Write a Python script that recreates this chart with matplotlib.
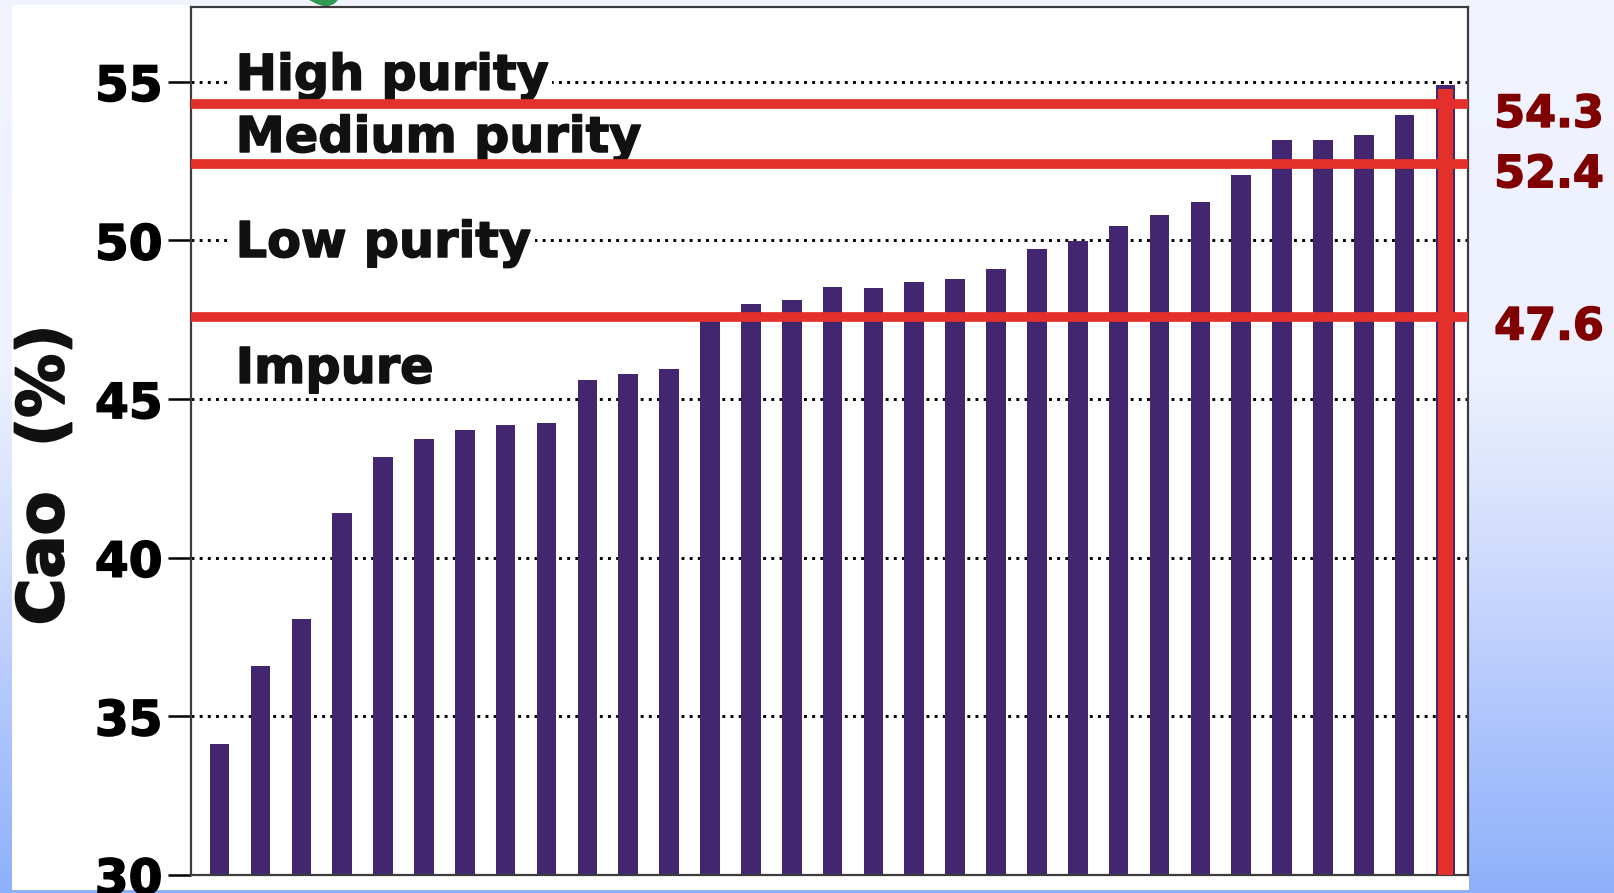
import numpy as np
import matplotlib
matplotlib.use("Agg")
import matplotlib.pyplot as plt
import matplotlib.patheffects as pe
from matplotlib.patches import Rectangle, Polygon

plt.rcParams['font.family'] = ['DejaVu Sans']
plt.rcParams['font.weight'] = 'bold'

# CaO content of each sample, sorted ascending
cao_values = [34.13, 36.60, 38.06, 41.40, 43.19, 43.74, 44.04, 44.19, 44.24,
              45.61, 45.79, 45.94, 47.45, 47.99, 48.13, 48.52, 48.49, 48.69,
              48.80, 49.10, 49.74, 49.97, 50.46, 50.81, 51.20, 52.05, 53.18,
              53.17, 53.33, 53.96, 54.90]

# purity class thresholds
thresholds = [54.3, 52.4, 47.6]
threshold_labels = ["54.3", "52.4", "47.6"]

# class names and the baseline height at which each is written
class_names = ["High purity", "Medium purity", "Low purity", "Impure"]
class_baselines = [54.75, 52.79, 49.48, 45.51]

y_ticks = [30, 35, 40, 45, 50, 55]
y_label = "Cao  (%)"

W, H = 1614, 893
fig = plt.figure(figsize=(W / 100, H / 100), dpi=100)


def heavy(color, lw=1.1):
    return [pe.withStroke(linewidth=lw, foreground=color)]


# slide-style background: vertical light-to-blue gradient with a white panel
bg = fig.add_axes([0, 0, 1, 1])
bg.set_xlim(0, W)
bg.set_ylim(H, 0)
bg.axis("off")
stops = [0.0, 0.42, 0.62, 0.80, 1.0]
cols = np.array([[241, 244, 254], [237, 241, 254], [208, 220, 252],
                 [176, 198, 252], [142, 176, 250]]) / 255.0
t = np.linspace(0, 1, H)
grad = np.stack([np.interp(t, stops, cols[:, c]) for c in range(3)], axis=-1)
bg.imshow(grad[:, None, :], extent=[0, W, H, 0], aspect="auto", zorder=0)
bg.add_patch(Rectangle((12, 5), 1469 - 12, 890 - 5, facecolor="white",
                       edgecolor="none", zorder=1))
bg.add_patch(Polygon([(309, 0), (338, 0), (334, 4), (326, 7), (317, 4)],
                     closed=True, facecolor="#2f9a52", edgecolor="none",
                     zorder=2))

ax = fig.add_axes([191 / W, 18 / H, (1468 - 191) / W, (875 - 7) / H])
ax.set_facecolor("white")

x = np.arange(len(cao_values))
bar_color = "#42266f"
red = "#e3302a"

ax.set_axisbelow(True)
ax.yaxis.grid(True, linestyle=(0, (1, 1.8)), color="black", linewidth=2.1)
ax.bar(x, cao_values, width=0.48, color=bar_color, zorder=2)
# highlight the purest sample
ax.bar(x[-1], cao_values[-1] - 0.12, width=0.35, color=red, zorder=4)

for v in thresholds:
    ax.axhline(v, color=red, linewidth=7, zorder=4)

ax.set_xlim(-0.7, len(cao_values) - 0.45)
ax.set_ylim(30, 57.36)
ax.set_xticks([])
ax.set_yticks(y_ticks)
ax.set_yticklabels([str(v) for v in y_ticks], fontsize=35, fontweight="bold")
for lab in ax.get_yticklabels():
    lab.set_path_effects(heavy("black"))
ax.tick_params(axis="y", direction="out", length=16.5, width=1.8, pad=4,
               colors="black")
for s in ax.spines.values():
    s.set_color("#3c3c3c")
    s.set_linewidth(1.6)

for name, yb in zip(class_names, class_baselines):
    ax.text(0.035, yb, name, transform=ax.get_yaxis_transform(),
            fontsize=35.5, fontweight="bold", color="#111111",
            ha="left", va="baseline", zorder=3,
            path_effects=heavy("#111111"),
            bbox=dict(facecolor="white", edgecolor="none", pad=3))

for v, lab in zip(thresholds, threshold_labels):
    ax.text(1.0205, v - 0.72, lab, transform=ax.get_yaxis_transform(),
            fontsize=32, fontweight="bold", color="#800000",
            ha="left", va="baseline", clip_on=False,
            path_effects=heavy("#800000"))

fig.text(63 / W, 1 - 475 / H, y_label, rotation=90, rotation_mode="anchor",
         ha="center", va="baseline", fontsize=46, fontweight="bold",
         color="#111111", path_effects=heavy("#111111", 1.4))

fig.savefig("out.png", dpi=100)
